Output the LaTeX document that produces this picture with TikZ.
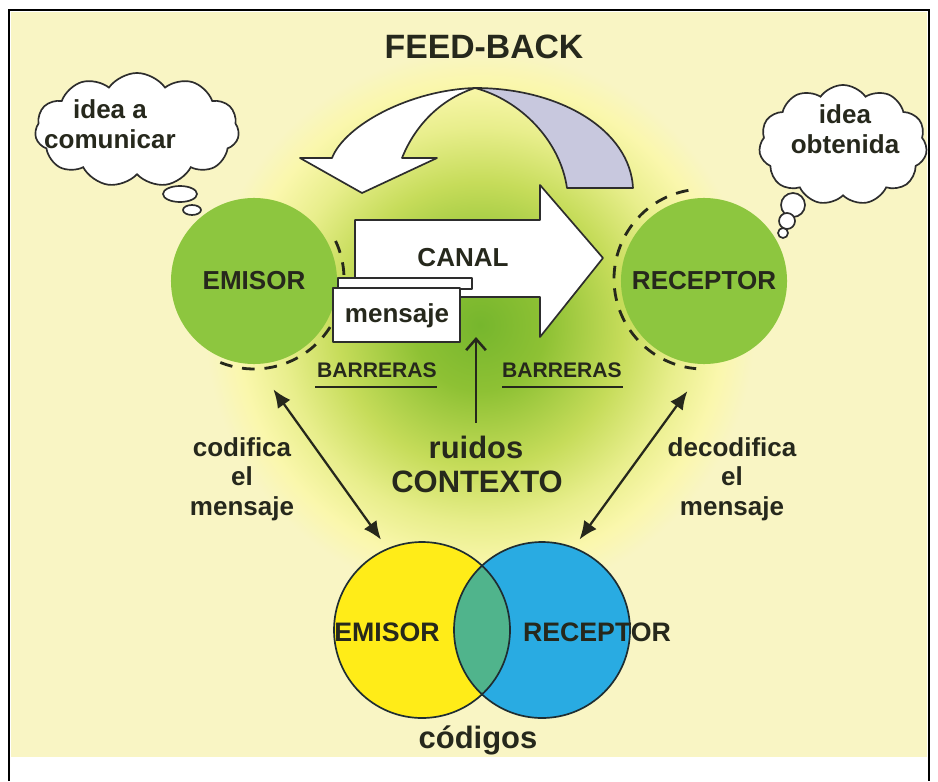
\documentclass[tikz,border=0pt]{standalone}
\usepackage{fontspec}
\setmainfont{Liberation Sans}
\usetikzlibrary{arrows.meta,shapes.symbols}
\definecolor{bg}{RGB}{249,245,196}
\definecolor{leaf}{RGB}{141,198,63}
\definecolor{ink}{RGB}{38,40,28}
\definecolor{edge}{RGB}{45,45,45}
\definecolor{backside}{RGB}{200,200,222}
\definecolor{venny}{RGB}{255,236,24}
\definecolor{vennb}{RGB}{41,171,226}
\definecolor{venng}{RGB}{80,180,140}
\definecolor{vline}{RGB}{30,45,50}
\definecolor{gA}{RGB}{118,182,45}
\definecolor{gB}{RGB}{142,193,52}
\definecolor{gC}{RGB}{198,220,90}
\definecolor{gD}{RGB}{232,238,140}
\definecolor{gE}{RGB}{250,247,172}
\pgfdeclareradialshading{glow}{\pgfpoint{0bp}{0bp}}{color(0bp)=(gA); color(6bp)=(gB); color(13bp)=(gC); color(18bp)=(gD); color(22bp)=(gE); color(25bp)=(bg); color(50bp)=(bg)}
\tikzset{every node/.style={font=\bfseries\fontsize{18.5}{21}\selectfont, text=ink, inner sep=0pt, align=center}}
\tikzset{
  actor/.style={circle, fill=leaf, minimum size=4.15cm},
  venn/.style={circle, minimum size=4.4cm},
  outline/.style={draw=edge, line width=1.2pt, line join=round},
  barrier/.style={ink, line width=2pt, dash pattern=on 9pt off 7pt},
  thought/.style={cloud, cloud puffs=11, cloud puff arc=110, cloud ignores aspect, draw=edge, fill=white, line width=1.2pt},
  bubble/.style={draw=edge, fill=white, line width=1.2pt},
  twoway/.style={{Latex[length=13pt,width=11pt]}-{Latex[length=13pt,width=11pt]}, ink, line width=1.6pt},
  smalltxt/.style={font=\bfseries\fontsize{15}{17}\selectfont},
  bigtxt/.style={font=\bfseries\fontsize{22}{25}\selectfont}
}

\begin{document}
\begin{tikzpicture}[x=0.025cm,y=-0.025cm]
  \useasboundingbox (0,0) rectangle (938,781);
  \fill[bg] (11,12) rectangle (927,757);
  \draw[line width=1pt] (9,781) -- (9,10) -- (929,10) -- (929,781);
  \shade[shading=glow] (480,325) circle (275);

  % feed-back
  \node[font=\bfseries\fontsize{24}{28}\selectfont] (fb) at (484,47) {FEED-BACK};
  \draw[outline, fill=backside] (475,88) .. controls (560,88) and (630,130) .. (633,188)
    -- (567,188) .. controls (560,140) and (520,100) .. (475,88) -- cycle;
  \draw[outline, fill=white] (332,158) -- (300,158) -- (362,193) -- (437,158) -- (402,158)
    .. controls (414,128) and (438,100) .. (475,88)
    .. controls (410,90) and (345,125) .. (332,158) -- cycle;

  % actors
  \node[actor] (emisor) at (254,281) {EMISOR};
  \node[actor] (receptor) at (704,281) {RECEPTOR};
  \draw[barrier] (254,279) ++(-25:90) arc[start angle=-25, end angle=118, radius=90];
  \draw[barrier] (704,279) ++(-100:90) arc[start angle=-100, end angle=-265, radius=90];

  % canal
  \draw[outline, fill=white] (355,220) -- (540,220) -- (540,185) -- (603,258)
    -- (540,337) -- (540,297) -- (355,297) -- cycle;
  \node (canal) at (463,258) {CANAL};
  \draw[outline, fill=white] (338,278) rectangle (472,289);
  \draw[outline, fill=white] (333,288) rectangle (460,342);
  \node (msg) at (397,316) {mensaje};

  % barreras y ruidos
  \node[smalltxt] (barL) at (377,370) {BARRERAS};
  \node[smalltxt] (barR) at (562,370) {BARRERAS};
  \draw[ink, line width=2pt] (315,387) -- (437,387);
  \draw[ink, line width=2pt] (502,387) -- (623,387);
  \node[bigtxt] (ruidos) at (476,447) {ruidos};
  \node[bigtxt] (contexto) at (477,482) {CONTEXTO};
  \coordinate (noisetip) at (476,337);
  \draw[-{Straight Barb[length=8pt,width=14pt]}, ink, line width=1.8pt, shorten <=9pt] (ruidos.north) -- (noisetip);

  % ideas
  \node[thought, minimum width=5.1cm, minimum height=2.85cm] (ideaA) at (137,130) {};
  \node (ideaAtxt) at (110,124) {idea a\\comunicar};
  \draw[bubble] (180,194) ellipse (17 and 8);
  \draw[bubble] (192,210) ellipse (9 and 5);
  \node[thought, minimum width=4.2cm, minimum height=3cm] (ideaB) at (843,145) {};
  \node (ideaBtxt) at (845,129) {idea\\obtenida};
  \draw[bubble] (793,205) circle (12);
  \draw[bubble] (787,221) circle (8);
  \draw[bubble] (783,233) circle (5);

  % codigos
  \node[venn, fill=venny] (venE) at (422,630) {};
  \node[venn, fill=vennb] (venR) at (542,630) {};
  \begin{scope}
    \clip (422,630) circle (88);
    \fill[venng] (542,630) circle (88);
  \end{scope}
  \draw[vline, line width=1.2pt] (422,630) circle (88);
  \draw[vline, line width=1.2pt] (542,630) circle (88);
  \node[font=\bfseries\fontsize{19}{22}\selectfont] (venEtxt) at (387,632) {EMISOR};
  \node[font=\bfseries\fontsize{19}{22}\selectfont] (venRtxt) at (597,632) {RECEPTOR};
  \node[bigtxt] (codigos) at (478,740) {códigos};

  \node (cod) at (242,479) {codifica\\el\\mensaje};
  \node (decod) at (732,479) {decodifica\\el\\mensaje};
  \draw[twoway, shorten <=0.77cm, shorten >=0.28cm] (emisor.-89) -- (venE.113);
  \draw[twoway, shorten <=0.83cm, shorten >=0.25cm] (receptor.-88) -- (venR.69);
\end{tikzpicture}
\end{document}
